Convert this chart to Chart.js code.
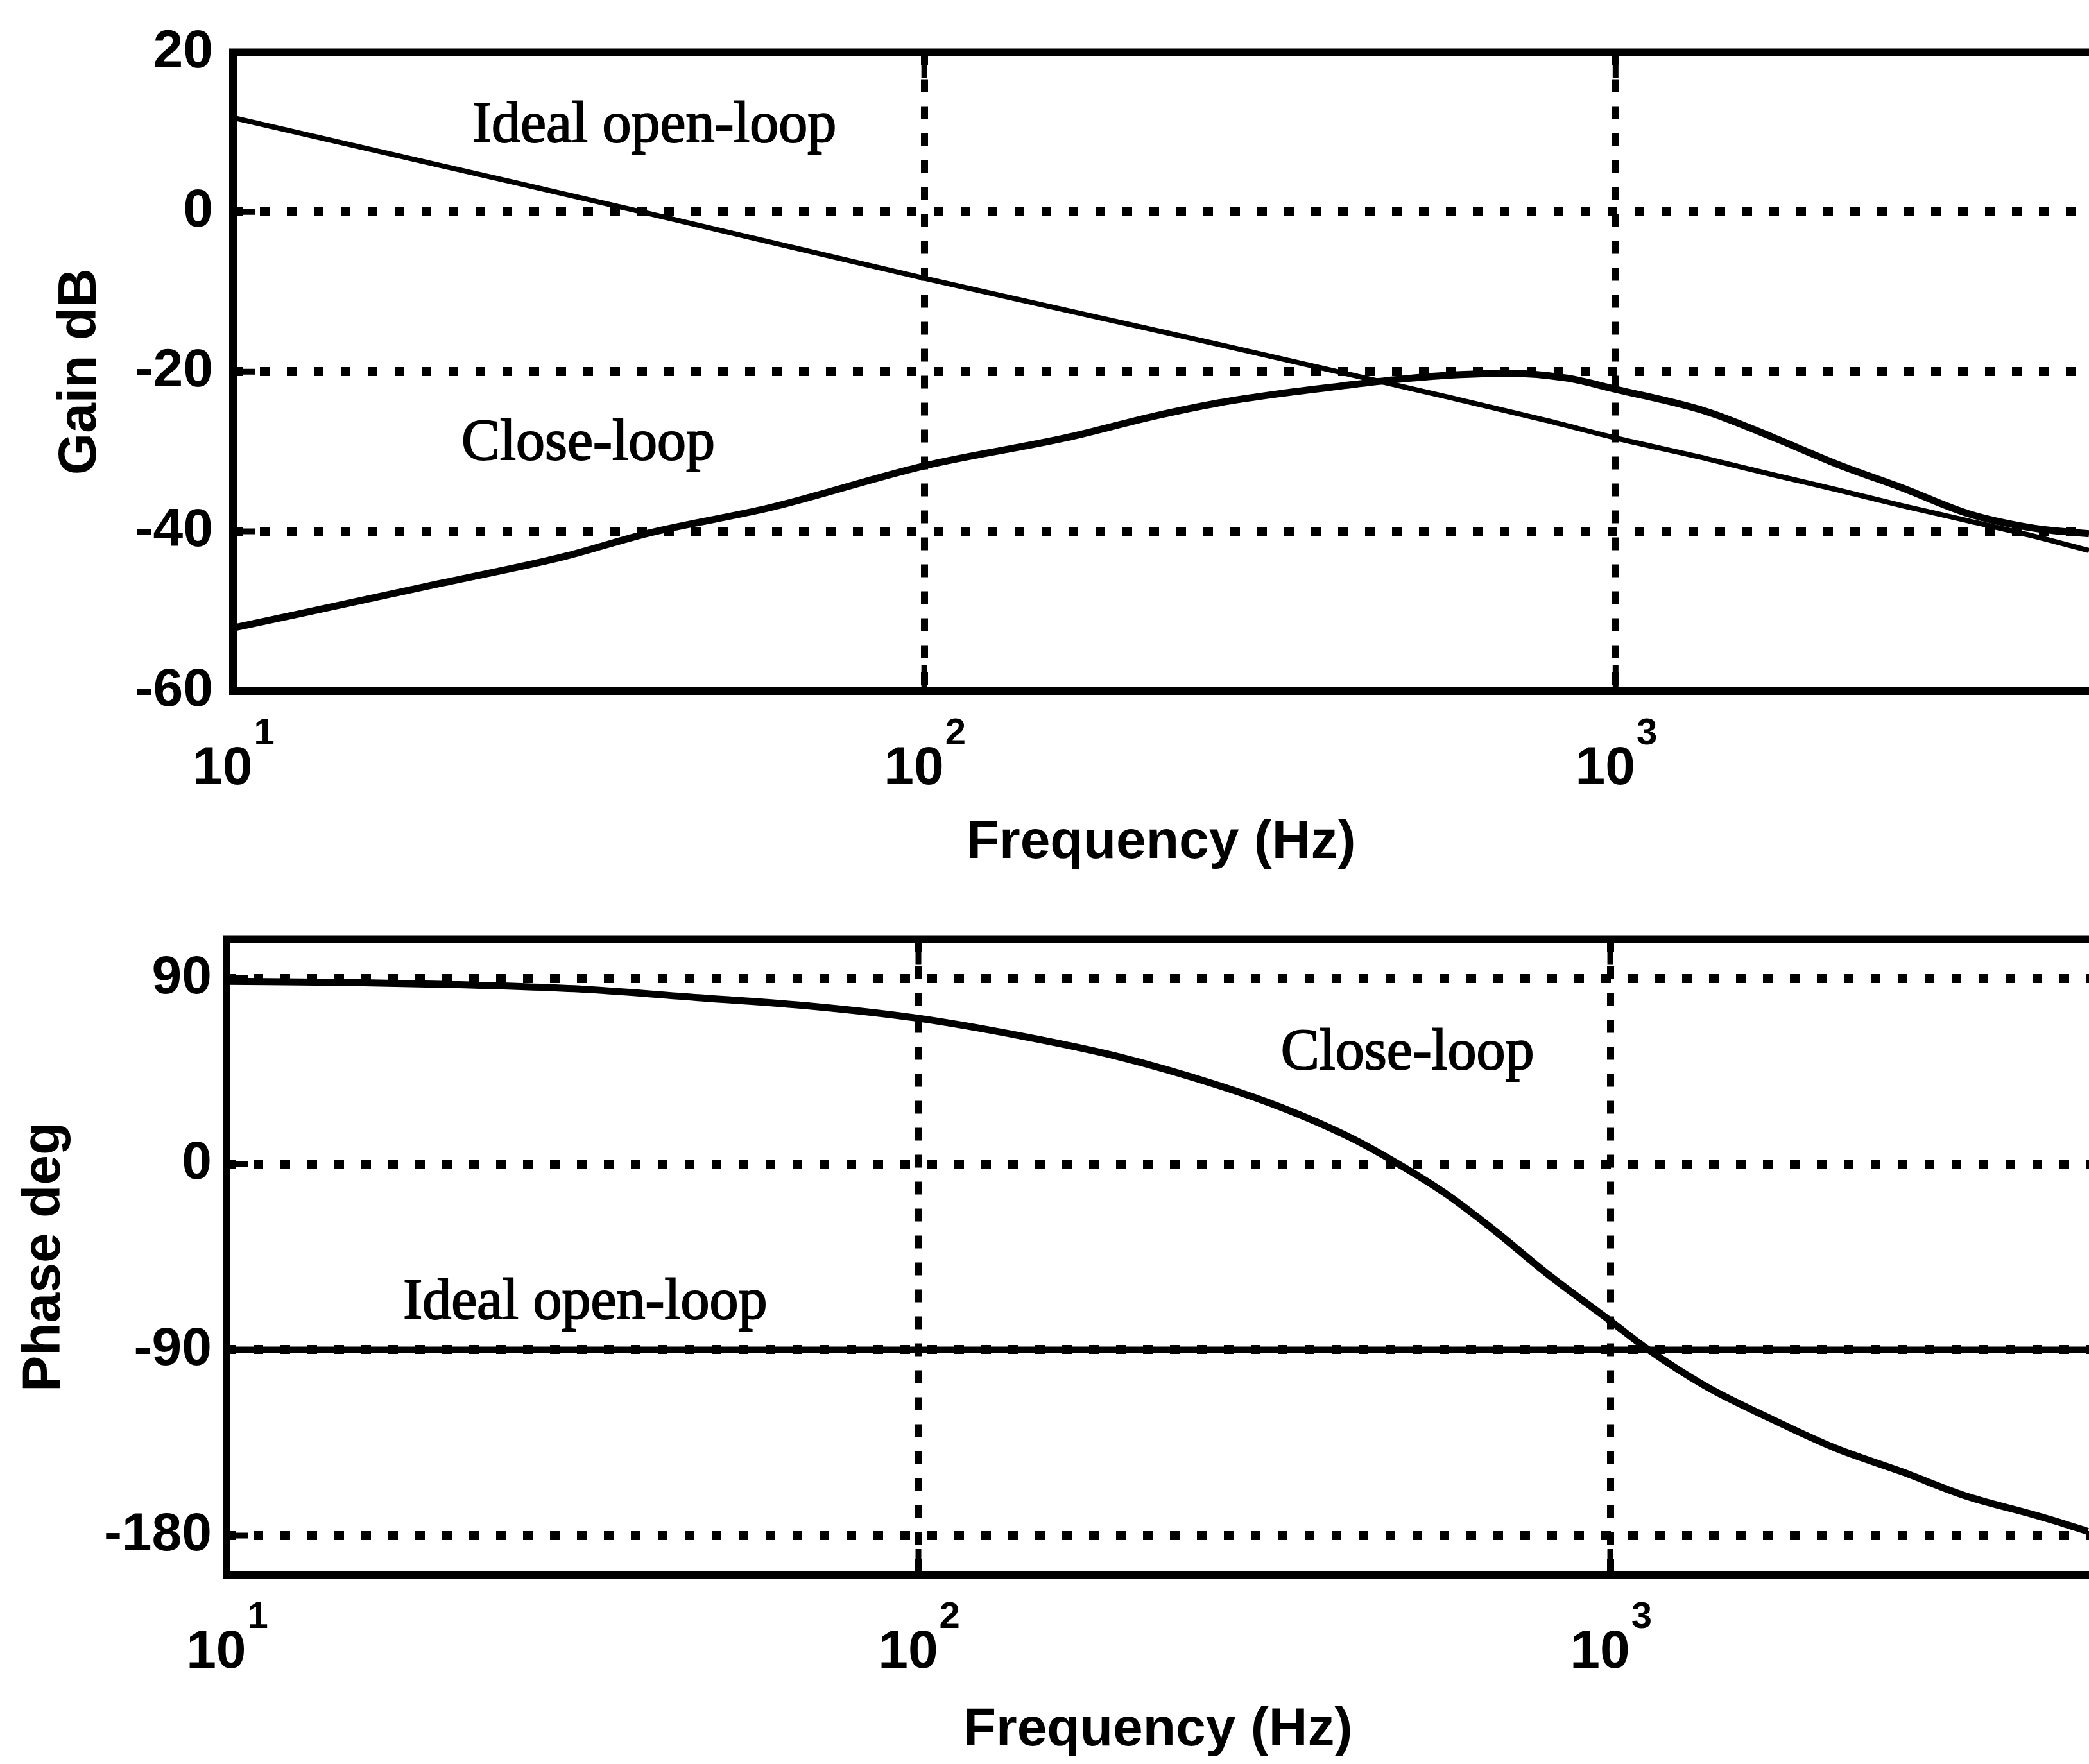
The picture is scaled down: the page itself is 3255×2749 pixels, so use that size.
<!DOCTYPE html>
<html>
<head>
<meta charset="utf-8">
<title>Bode plot</title>
<script src="https://cdn.jsdelivr.net/npm/chart.js@4.4.1/dist/chart.umd.min.js"></script>
<style>
  html, body { margin: 0; padding: 0; background: #fff; overflow: hidden; }
  canvas { position: absolute; left: 0; }
  #gainCanvas { top: 0; }
  #phaseCanvas { top: 1390px; }
</style>
</head>
<body>
<canvas id="gainCanvas" width="3255" height="1390"></canvas>
<canvas id="phaseCanvas" width="3255" height="1359"></canvas>
<script>
// gain traces (Hz / dB)
const openGainHz = [10, 20, 40, 100, 267, 450, 574, 794, 1000, 1355, 1687, 2094, 2606, 3243, 4030, 4840];
const openGainDb = [11.8, 5.8, -0.2, -8.3, -16.6, -21.1, -23.2, -26.1, -28.3, -30.9, -32.9, -34.8, -36.8, -38.7, -40.6, -42.4];
const closeGainHz = [10, 20, 30, 40, 60, 100, 160, 217, 267, 330, 400, 480, 560, 700, 850, 1000, 1355, 1687, 2094, 2606, 3243, 4030, 4840];
const closeGainDb = [-52.1, -46.5, -43.2, -40.2, -37, -31.8, -28.3, -25.5, -23.9, -22.7, -21.8, -21.0, -20.5, -20.2, -20.8, -22.2, -25, -28.2, -31.6, -34.6, -37.8, -39.6, -40.3];

// phase traces (Hz / deg)
const openPhaseHz = [10, 4920];
const openPhaseDeg = [-90, -90];
const closePhaseHz = [10, 15, 21, 33, 48, 70, 100, 141, 192, 272, 337, 420, 494, 582, 685, 806, 1000, 1130, 1371, 1706, 2120, 2634, 3275, 4070, 4540, 4900];
const closePhaseDeg = [88.5, 88, 87, 84.6, 80.6, 76.5, 70.6, 62, 52.5, 38, 27, 13, 0, -15, -33, -52.5, -76, -89.5, -107.5, -123.4, -137.8, -149, -161, -169.7, -174.4, -178];

// axis ticks
const freqTicks = [10, 100, 1000];
const freqTickExp = ['1', '2', '3'];
const gainTicks = [-60, -40, -20, 0, 20];
const phaseTicks = [-180, -90, 0, 90];

// curve captions, placed in data units
const gainCaptions = [
  { text: 'Ideal open-loop', x: 22.2, y: 8.8 },
  { text: 'Close-loop', x: 21.4, y: -31 }
];
const phaseCaptions = [
  { text: 'Close-loop', x: 334, y: 46 },
  { text: 'Ideal open-loop', x: 18, y: -75 }
];

const sans = "'Liberation Sans', Arial, Helvetica, sans-serif";
const serif = "'Liberation Serif', 'Times New Roman', serif";
Chart.defaults.font.family = sans;
Chart.defaults.font.weight = 'bold';
Chart.defaults.color = '#000';

const toPoints = (xs, ys) => xs.map((x, i) => ({ x: x, y: ys[i] }));

// frame on left/top/bottom plus short inward tick marks
const axesFrame = {
  id: 'axesFrame',
  afterDatasetsDraw(chart) {
    const { ctx, chartArea: a, scales: { x, y } } = chart;
    ctx.save();
    ctx.strokeStyle = '#000';
    ctx.lineWidth = 12;
    ctx.lineCap = 'square';
    ctx.beginPath();
    ctx.moveTo(a.right + 20, a.top);
    ctx.lineTo(a.left, a.top);
    ctx.lineTo(a.left, a.bottom);
    ctx.lineTo(a.right + 20, a.bottom);
    ctx.stroke();

    ctx.lineWidth = 9;
    ctx.lineCap = 'butt';
    ctx.beginPath();
    y.ticks.forEach(t => {
      const py = y.getPixelForValue(t.value);
      if (py > a.top + 8 && py < a.bottom - 8) {
        ctx.moveTo(a.left, py);
        ctx.lineTo(a.left + 34, py);
      }
    });
    x.ticks.forEach(t => {
      const px = x.getPixelForValue(t.value);
      if (px > a.left + 8) {
        ctx.moveTo(px, a.top);
        ctx.lineTo(px, a.top + 40);
        ctx.moveTo(px, a.bottom);
        ctx.lineTo(px, a.bottom - 40);
      }
    });
    ctx.stroke();
    ctx.restore();
  }
};

// "10" with the exponent raised, under each decade tick
const powerLabels = {
  id: 'powerLabels',
  afterDraw(chart) {
    const { ctx, chartArea: a, scales: { x } } = chart;
    ctx.save();
    ctx.fillStyle = '#000';
    ctx.textAlign = 'left';
    ctx.textBaseline = 'alphabetic';
    x.ticks.forEach((t, i) => {
      const px = x.getPixelForValue(t.value);
      const exp = freqTickExp[i];
      ctx.font = 'bold 84px ' + sans;
      const wBase = ctx.measureText('10').width;
      ctx.font = 'bold 58px ' + sans;
      const wExp = ctx.measureText(exp).width;
      const left = px - (wBase + wExp) / 2;
      const base = a.bottom + 145;
      ctx.font = 'bold 84px ' + sans;
      ctx.fillText('10', left, base);
      ctx.font = 'bold 58px ' + sans;
      ctx.fillText(exp, left + wBase + 2, base - 62);
    });
    ctx.restore();
  }
};

// serif captions next to the curves
const curveCaptions = {
  id: 'curveCaptions',
  afterDatasetsDraw(chart, args, opts) {
    const { ctx, scales: { x, y } } = chart;
    ctx.save();
    ctx.fillStyle = '#000';
    ctx.strokeStyle = '#000';
    ctx.lineWidth = 2;
    ctx.font = '90px ' + serif;
    ctx.textAlign = 'left';
    ctx.textBaseline = 'alphabetic';
    (opts.items || []).forEach(c => {
      const px = x.getPixelForValue(c.x);
      const py = y.getPixelForValue(c.y);
      ctx.fillText(c.text, px, py);
      ctx.strokeText(c.text, px, py);
    });
    ctx.restore();
  }
};

function bodeChart(canvas, o) {
  return new Chart(canvas, {
    type: 'line',
    data: { datasets: o.datasets },
    plugins: [axesFrame, powerLabels, curveCaptions],
    options: {
      responsive: false,
      maintainAspectRatio: false,
      animation: false,
      layout: { padding: { top: o.top, left: 0, right: 0, bottom: 0 } },
      elements: { point: { radius: 0 }, line: { cubicInterpolationMode: 'monotone' } },
      plugins: {
        legend: { display: false },
        tooltip: { enabled: false },
        curveCaptions: { items: o.captions }
      },
      scales: {
        x: {
          type: 'logarithmic',
          bounds: 'data',
          min: 10,
          max: o.xMax,
          afterBuildTicks: s => { s.ticks = freqTicks.map(v => ({ value: v })); },
          afterFit: s => { s.height = o.xAxisHeight; },
          ticks: { display: false },
          grid: {
            drawTicks: false,
            lineWidth: 11,
            color: c => (c.tick && c.tick.value === 10) ? 'rgba(0,0,0,0)' : '#000'
          },
          border: { display: false, dash: [20, 22] },
          title: {
            display: true,
            text: 'Frequency (Hz)',
            color: '#000',
            font: { size: 84, weight: 'bold' },
            padding: { top: 0, bottom: o.xTitlePad }
          }
        },
        y: {
          type: 'linear',
          min: o.yMin,
          max: o.yMax,
          afterBuildTicks: s => { s.ticks = o.yTicks.map(v => ({ value: v })); },
          afterFit: s => { s.width = o.yAxisWidth; },
          ticks: { padding: o.yTickPad, font: { size: 84, weight: 'bold' }, color: '#000', callback: v => String(v) },
          grid: {
            drawTicks: false,
            lineWidth: 14,
            color: c => (c.tick && (c.tick.value === o.yMax || c.tick.value === o.yMin)) ? 'rgba(0,0,0,0)' : '#000'
          },
          border: { display: false, dash: [15, 27] },
          title: {
            display: true,
            text: o.yTitle,
            color: '#000',
            font: { size: 84, weight: 'bold' },
            padding: { top: o.yTitlePad, bottom: 0 }
          }
        }
      }
    }
  });
}

bodeChart(document.getElementById('gainCanvas'), {
  top: 79,
  xMax: 4840,
  xAxisHeight: 313,
  xTitlePad: 26,
  yMin: -60,
  yMax: 20,
  yTicks: gainTicks,
  yAxisWidth: 363,
  yTickPad: 31,
  yTitle: 'Gain dB',
  yTitlePad: 75,
  captions: gainCaptions,
  datasets: [
    { label: 'Ideal open-loop', data: toPoints(openGainHz, openGainDb), borderColor: '#000', borderWidth: 8 },
    { label: 'Close-loop', data: toPoints(closeGainHz, closeGainDb), borderColor: '#000', borderWidth: 11 }
  ]
});

bodeChart(document.getElementById('phaseCanvas'), {
  top: 69,
  xMax: 4920,
  xAxisHeight: 295,
  xTitlePad: 2,
  yMin: -199,
  yMax: 109,
  yTicks: phaseTicks,
  yAxisWidth: 353,
  yTickPad: 23,
  yTitle: 'Phase deg',
  yTitlePad: 19,
  captions: phaseCaptions,
  datasets: [
    { label: 'Ideal open-loop', data: toPoints(openPhaseHz, openPhaseDeg), borderColor: '#000', borderWidth: 10 },
    { label: 'Close-loop', data: toPoints(closePhaseHz, closePhaseDeg), borderColor: '#000', borderWidth: 11 }
  ]
});
</script>
</body>
</html>
